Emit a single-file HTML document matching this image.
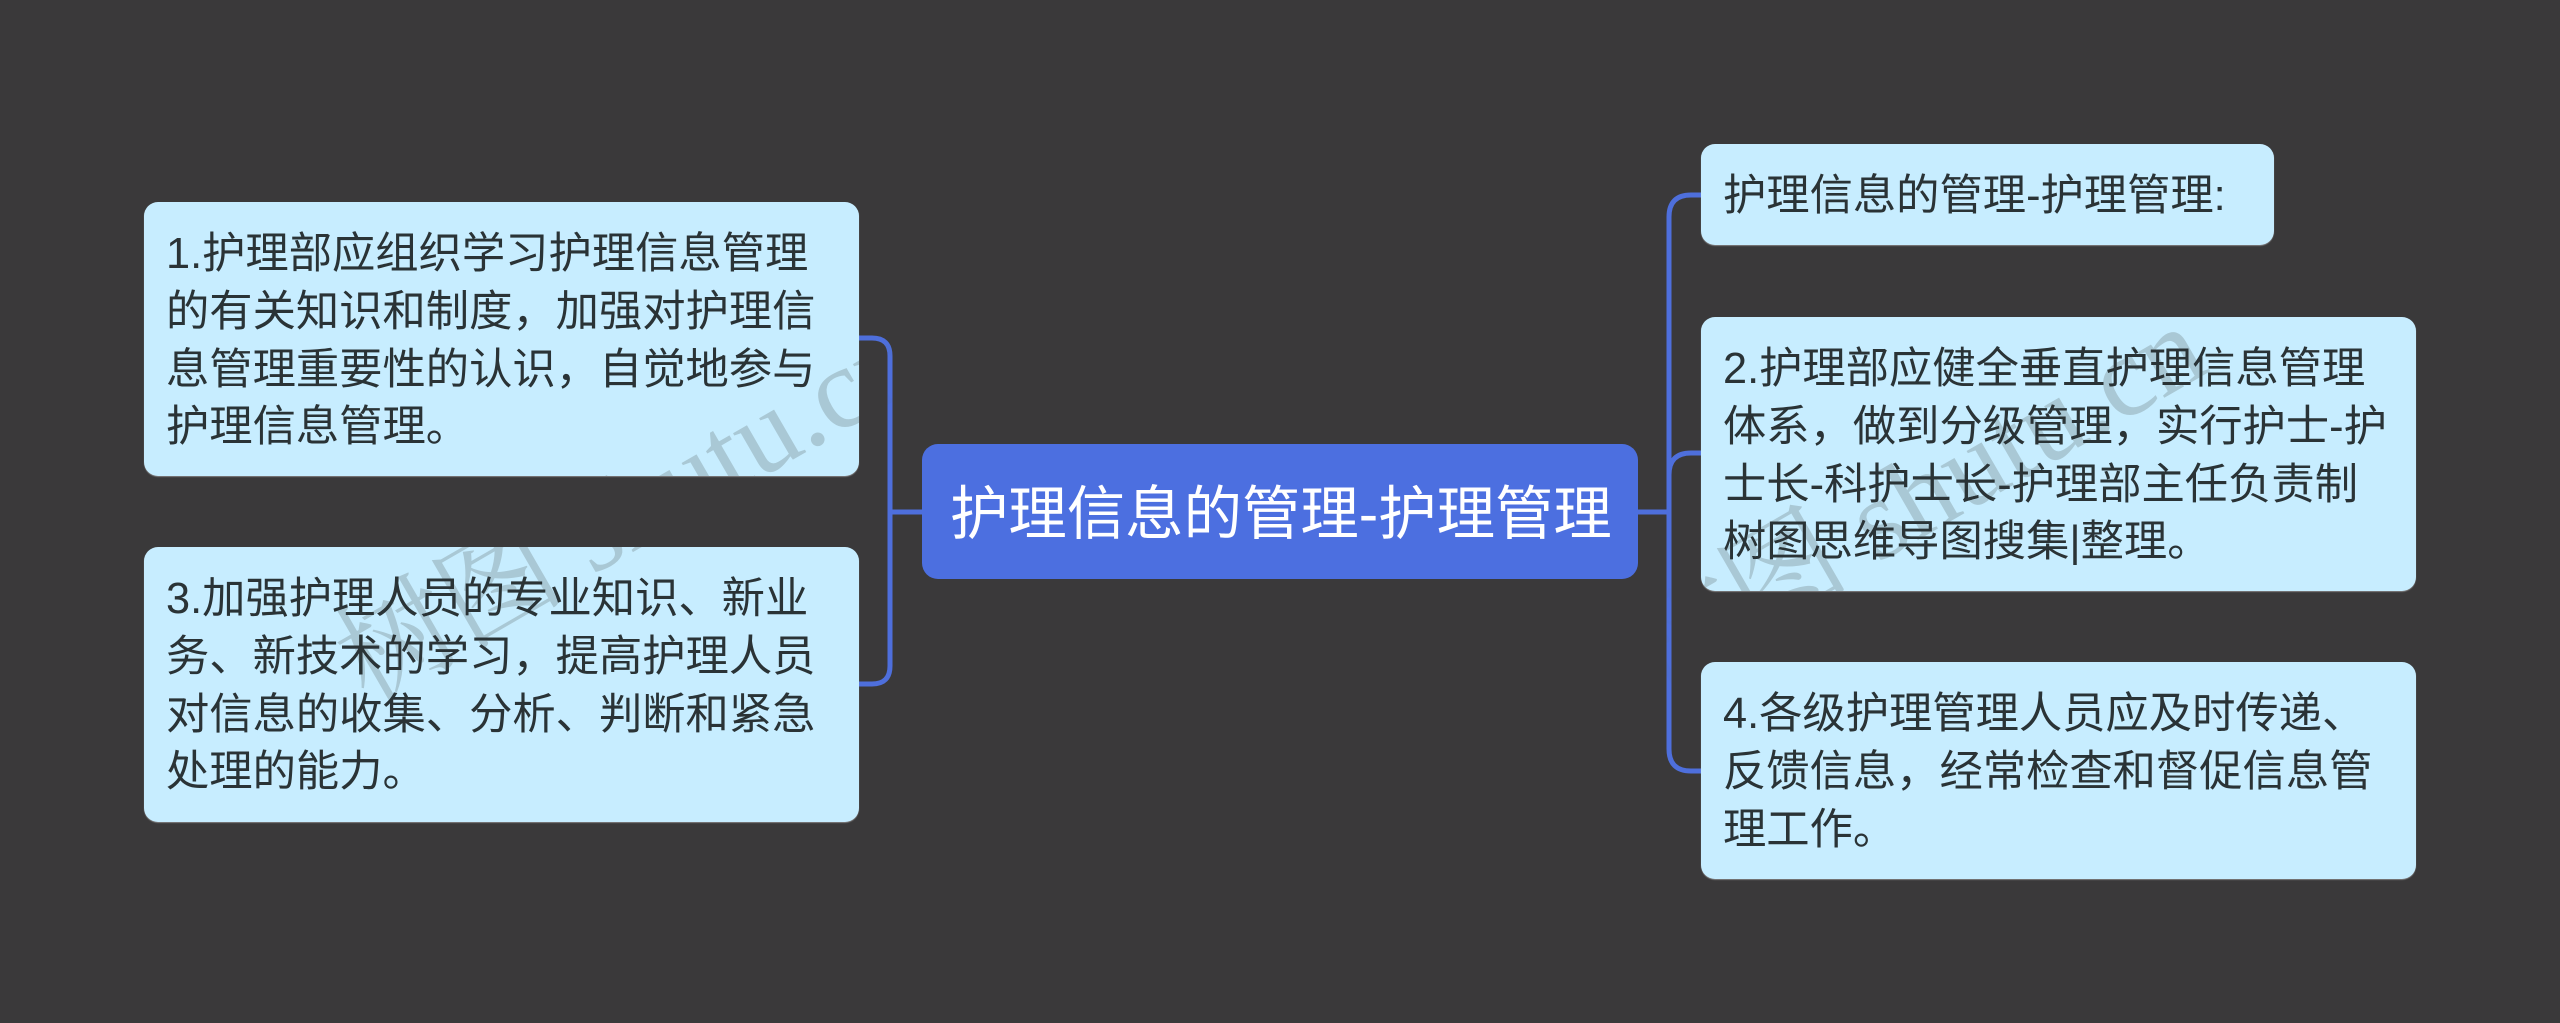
<!DOCTYPE html>
<html lang="zh-CN"><head><meta charset="utf-8"><title>护理信息的管理-护理管理</title>
<style>
html,body{margin:0;padding:0;width:2560px;height:1023px;overflow:hidden;background:#3a393a}
.n{position:absolute;box-sizing:border-box;background:#c7edff;border-radius:14px;color:#2a3336;font:43.3px/57.8px "Liberation Sans","WenQuanYi Zen Hei","Noto Sans CJK SC",sans-serif;white-space:nowrap;padding:24px 0 0 22px;box-shadow:0 1px 1px rgba(255,255,255,.35)}
.r{position:absolute;box-sizing:border-box;left:922px;top:444px;width:716px;height:135px;background:#4c6fe0;border-radius:16px;color:#fff;font:58.4px/141px "Liberation Sans","WenQuanYi Zen Hei","Noto Sans CJK SC",sans-serif;white-space:nowrap;padding-left:28px}
svg{position:absolute;left:0;top:0}
#wm{mix-blend-mode:darken}
</style></head><body>
<svg width="2560" height="1023" style="z-index:1"><g fill="none" stroke="#4e6fdc" stroke-width="5">
<path d="M922 512H890M859 338H872Q890 338 890 356V666Q890 684 872 684H859"/>
<path d="M1638 512H1669M1701 195H1691Q1669 195 1669 217V749Q1669 771 1691 771H1701M1701 453H1691Q1669 453 1669 475V520"/>
</g></svg>
<div class="n" style="left:144px;top:202px;width:715px;height:274px;z-index:2">1.护理部应组织学习护理信息管理<br>的有关知识和制度，加强对护理信<br>息管理重要性的认识，自觉地参与<br>护理信息管理。</div>
<div class="n" style="left:144px;top:547px;width:715px;height:275px;z-index:2">3.加强护理人员的专业知识、新业<br>务、新技术的学习，提高护理人员<br>对信息的收集、分析、判断和紧急<br>处理的能力。</div>
<div class="n" style="left:1701px;top:144px;width:573px;height:101px;z-index:2">护理信息的管理-护理管理:</div>
<div class="n" style="left:1701px;top:317px;width:715px;height:274px;z-index:2">2.护理部应健全垂直护理信息管理<br>体系，做到分级管理，实行护士-护<br>士长-科护士长-护理部主任负责制<br>树图思维导图搜集|整理。</div>
<div class="n" style="left:1701px;top:662px;width:715px;height:217px;z-index:2">4.各级护理管理人员应及时传递、<br>反馈信息，经常检查和督促信息管<br>理工作。</div>
<div class="r" style="z-index:2">护理信息的管理-护理管理</div>
<svg id="wm" width="2560" height="1023" style="z-index:3"><g font-family="'Liberation Serif','Noto Serif CJK SC',serif" font-size="115" fill="#a9c8d5">
<text transform="translate(368 705) rotate(-30)">树图 shutu.cn</text>
<text transform="translate(1653 693) rotate(-30)">树图 shutu.cn</text>
</g></svg>
</body></html>
